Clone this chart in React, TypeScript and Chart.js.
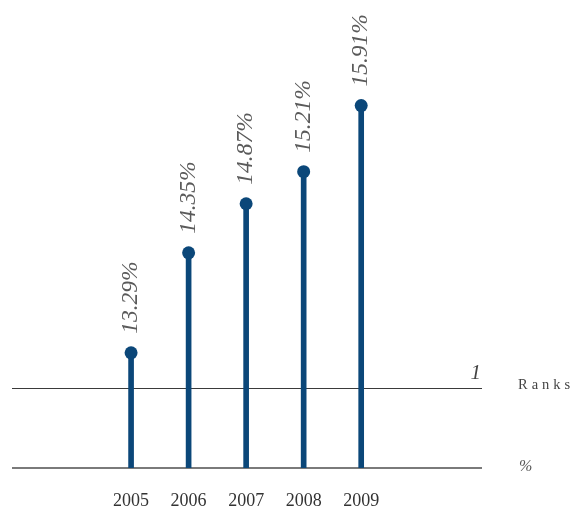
import React, { useEffect, useRef } from "react";
import { Chart, registerables } from "chart.js";

Chart.register(...registerables);

const years = [2005, 2006, 2007, 2008, 2009];
const values = [13.29, 14.35, 14.87, 15.21, 15.91];
const valueLabels = ["13.29%", "14.35%", "14.87%", "15.21%", "15.91%"];
const rankLineValue = 12.92;
const rankLabel = "1";
const rankTitle = "Ranks";
const unitLabel = "%";

const BLUE = "#0b4779";

export default function App() {
  const ref = useRef<HTMLCanvasElement | null>(null);

  useEffect(() => {
    if (!ref.current) return;
    const decor = {
      id: "decor",
      beforeDatasetsDraw(chart: any) {
        const { ctx, chartArea, scales } = chart;
        const y = scales.y;
        ctx.save();
        const yr = Math.round(y.getPixelForValue(rankLineValue)) + 0.5;
        ctx.strokeStyle = "#3a3a3a";
        ctx.lineWidth = 1;
        ctx.beginPath();
        ctx.moveTo(chartArea.left, yr);
        ctx.lineTo(chartArea.right, yr);
        ctx.stroke();
        const yb = y.getPixelForValue(y.min);
        ctx.strokeStyle = "#7a7a7a";
        ctx.lineWidth = 2;
        ctx.beginPath();
        ctx.moveTo(chartArea.left, yb);
        ctx.lineTo(chartArea.right, yb);
        ctx.stroke();
        ctx.restore();
      },
      afterDatasetsDraw(chart: any) {
        const { ctx, chartArea, scales } = chart;
        const x = scales.x;
        const y = scales.y;
        ctx.save();
        ctx.fillStyle = "#5a5a5a";
        ctx.font = "italic 23.5px 'Liberation Serif', serif";
        ctx.textAlign = "left";
        ctx.textBaseline = "middle";
        years.forEach((yr, i) => {
          const px = x.getPixelForValue(yr);
          const py = y.getPixelForValue(values[i]);
          ctx.save();
          ctx.translate(px, py - 19);
          ctx.rotate(-Math.PI / 2);
          ctx.fillText(valueLabels[i], 0, 0);
          ctx.restore();
        });
        const yr = y.getPixelForValue(rankLineValue);
        ctx.textBaseline = "alphabetic";
        ctx.textAlign = "right";
        ctx.font = "italic 21px 'Liberation Serif', serif";
        ctx.fillStyle = "#444444";
        ctx.fillText(rankLabel, chartArea.right - 1, yr - 9);
        ctx.textAlign = "left";
        ctx.font = "14.5px 'Liberation Serif', serif";
        (ctx as any).letterSpacing = "4px";
        ctx.fillStyle = "#444444";
        ctx.fillText(rankTitle, chartArea.right + 36, yr + 1);
        (ctx as any).letterSpacing = "0px";
        const yb = y.getPixelForValue(y.min);
        ctx.font = "italic 16px 'Liberation Serif', serif";
        ctx.fillStyle = "#555555";
        ctx.fillText(unitLabel, chartArea.right + 37, yb + 3);
        ctx.restore();
      },
    };

    const chart = new Chart(ref.current, {
      type: "bar",
      data: {
        datasets: [
          {
            type: "scatter",
            data: years.map((yr, i) => ({ x: yr, y: values[i] })),
            backgroundColor: BLUE,
            borderColor: BLUE,
            pointRadius: 6.5,
            pointBorderWidth: 0,
            order: 0,
          } as any,
          {
            type: "bar",
            data: years.map((yr, i) => ({ x: yr, y: values[i] })),
            backgroundColor: BLUE,
            barThickness: 5,
            borderWidth: 0,
            order: 1,
          } as any,
        ],
      },
      options: {
        animation: false,
        responsive: false,
        maintainAspectRatio: false,
        layout: { padding: { left: 12, right: 94, top: 0, bottom: 1 } },
        plugins: { legend: { display: false }, tooltip: { enabled: false } },
        scales: {
          x: {
            type: "linear",
            offset: false,
            min: 2002.93,
            max: 2011.1,
            afterBuildTicks: (scale: any) => {
              scale.ticks = years.map((v) => ({ value: v }));
            },
            ticks: {
              callback: (v: any) => String(v),
              color: "#333333",
              padding: 24,
              maxRotation: 0,
              autoSkip: false,
              font: { family: "'Liberation Serif', serif", size: 18, lineHeight: 1 },
            },
            grid: { display: false, drawTicks: false },
            border: { display: false },
          },
          y: {
            display: false,
            min: 12.07,
            max: 16.96,
          },
        },
      },
      plugins: [decor],
    });
    return () => chart.destroy();
  }, []);

  return (
    <div style={{ position: "fixed", left: 0, top: 0, width: 576, height: 510, overflow: "hidden", background: "#fff" }}>
      <canvas ref={ref} width={576} height={535} style={{ width: 576, height: 535, display: "block" }} />
    </div>
  );
}
